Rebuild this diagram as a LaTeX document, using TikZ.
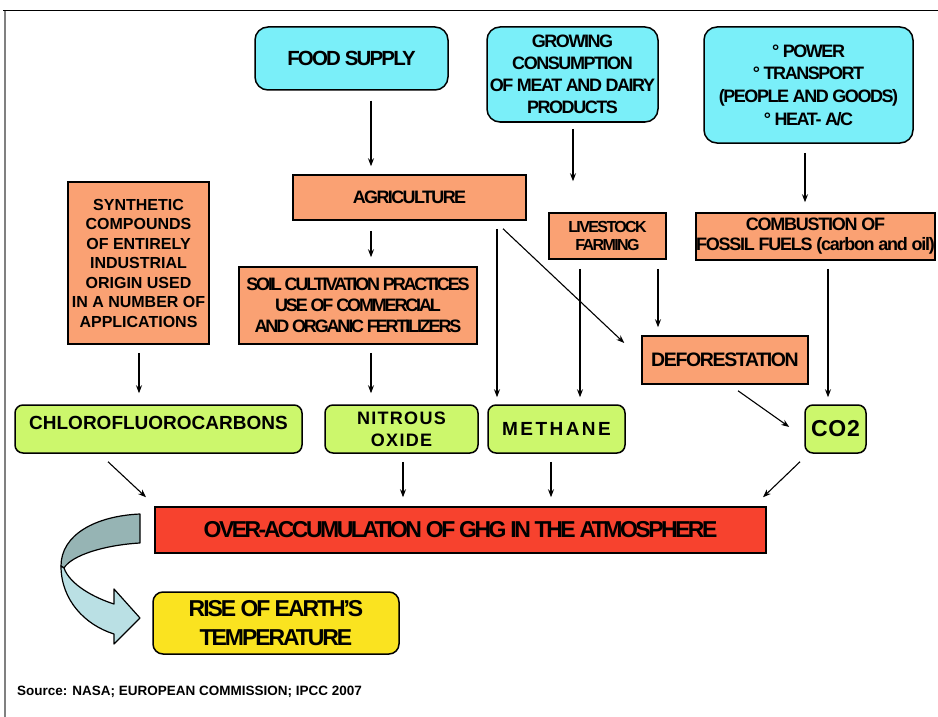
\documentclass[tikz,border=0pt]{standalone}
\usepackage{fontspec}
\setmainfont{Liberation Sans}
\usetikzlibrary{calc,arrows.meta}
\newcommand\myfont[3]{\fontsize{#1pt}{#2pt}\selectfont\bfseries\addfontfeature{LetterSpace=#3}}
\definecolor{cy}{RGB}{122,239,249}
\definecolor{org}{RGB}{250,161,115}
\definecolor{grn}{RGB}{204,247,108}
\definecolor{rd}{RGB}{247,66,46}
\definecolor{yl}{RGB}{250,227,32}
\definecolor{dk}{RGB}{150,180,180}
\definecolor{lt}{RGB}{186,224,228}
\begin{document}
\begin{tikzpicture}[x=1pt,y=-1pt,
  box/.style={draw=black, line width=1.5pt, inner sep=0pt, align=center, anchor=center},
  cbox/.style={box, fill=cy, rounded corners=13pt},
  obox/.style={box, fill=org},
  gbox/.style={box, fill=grn, rounded corners=8pt},
  arr/.style={-{Stealth[length=8pt,width=6pt]}, line width=1.1pt}]
\useasboundingbox (0,0) rectangle (938,717);
% frame
\draw[line width=1pt] (3,11) -- (938,11);
\draw[line width=2pt, gray] (5,11) -- (5,717);

% top row
\node[cbox, minimum width=193pt, minimum height=63pt, font=\myfont{20.5}{24}{-9}] (food) at (351.5,58.5) {FOOD SUPPLY};
\node[cbox, minimum width=171pt, minimum height=95pt, font=\myfont{18}{22.2}{-8}] (grow) at (572.5,74.5) {GROWING\\CONSUMPTION\\OF MEAT AND DAIRY\\PRODUCTS};
\node[cbox, minimum width=209pt, minimum height=116pt, font=\myfont{18}{22.7}{-8}] (power) at (808.5,85) {° POWER\\° TRANSPORT\\(PEOPLE AND GOODS)\\° HEAT- A/C};

% orange
\node[obox, minimum width=233pt, minimum height=45pt, font=\myfont{18}{20}{-9}] (agri) at (409.5,197.5) {AGRICULTURE};
\node[obox, minimum width=117pt, minimum height=46pt, font=\myfont{16}{18.7}{-10}] (live) at (607.5,236) {LIVESTOCK\\FARMING};
\node[obox, minimum width=239pt, minimum height=47pt, font=\myfont{18}{20}{-7}] (comb) at (815.5,236.5) {COMBUSTION OF\\FOSSIL FUELS (carbon and oil)};
\node[obox, minimum width=141pt, minimum height=162pt, font=\myfont{16}{19.5}{0}] (synth) at (138.5,263) {SYNTHETIC\\COMPOUNDS\\OF ENTIRELY\\INDUSTRIAL\\ORIGIN USED\\IN A NUMBER OF\\APPLICATIONS};
\node[obox, minimum width=238pt, minimum height=77pt, font=\myfont{18}{20.7}{-12}] (soil) at (358,305.5) {SOIL CULTIVATION PRACTICES\\USE OF COMMERCIAL\\AND ORGANIC FERTILIZERS};
\node[obox, minimum width=166pt, minimum height=48pt, font=\myfont{19.5}{22}{-7}] (defo) at (725,360) {DEFORESTATION};

% green
\node[gbox, minimum width=287pt, minimum height=48pt] (cfc) at (158.5,429) {};
\node[inner sep=0pt, font=\myfont{19}{22}{0}] (cfct) at ([yshift=6pt]cfc.center) {CHLOROFLUOROCARBONS};
\node[gbox, minimum width=153pt, minimum height=48pt, font=\myfont{18}{22}{7}] (nitro) at (401.5,429) {NITROUS\\OXIDE};
\node[gbox, minimum width=137pt, minimum height=48pt, font=\myfont{19}{22}{13}] (meth) at (556.5,429) {METHANE};
\node[gbox, minimum width=61pt, minimum height=48pt, font=\myfont{23}{26}{3}] (co2) at (835.5,429) {CO2};

% bottom
\node[box, fill=rd, minimum width=611pt, minimum height=46pt, font=\myfont{23}{26}{-11}] (over) at (460.5,530) {OVER-ACCUMULATION OF GHG IN THE ATMOSPHERE};
\node[box, fill=yl, rounded corners=10pt, minimum width=246pt, minimum height=62pt, font=\myfont{23}{28.7}{-9}] (rise) at (276,623) {RISE OF EARTH’S\\TEMPERATURE};
\node[anchor=west, inner sep=0pt, font=\myfont{13.5}{16}{0}] (src) at (17,692) {Source: NASA; EUROPEAN COMMISSION; IPCC 2007};

% connectors
\draw[arr] ($(food.south)+(19.5,10)$) -- ($(agri.north)+(-38.5,-8)$);
\draw[arr] ($(grow.south)+(0.5,6)$) -- ($(live.north)+(-34.5,-31)$);
\draw[arr] ($(power.south)+(-3.5,9)$) -- ($(comb.north)+(-10.5,-10)$);
\draw[arr] ($(agri.south)+(-38.5,10)$) -- ($(soil.north)+(13,-9)$);
\draw[arr] ($(synth.south)+(0.5,8)$) -- ($(cfc.north)+(-19.5,-11)$);
\draw[arr] ($(soil.south)+(13,8)$) -- ($(nitro.north)+(-30.5,-11)$);
\draw[arr] ($(agri.south)+(87.5,8)$) -- ($(meth.north)+(-59.5,-7)$);
\draw[arr] ($(agri.south)+(93.5,8)$) -- ($(defo.west)+(-17,-17)$);
\draw[arr] ($(live.south)+(-27.5,9)$) -- ($(meth.north)+(23.5,-7)$);
\draw[arr] ($(live.south)+(50.5,9)$) -- ($(defo.north)+(-67,-8)$);
\draw[arr] ($(comb.south)+(12.5,8)$) -- ($(co2.north)+(-7.5,-7)$);
\draw[arr] ($(defo.south)+(13,6)$) -- ($(co2.west)+(-15,-2)$);
\draw[arr] ($(cfc.south)+(-50.5,8)$) -- ($(over.north)+(-314.5,-9)$);
\draw[arr] ($(nitro.south)+(1.5,8)$) -- ($(over.north)+(-57.5,-9)$);
\draw[arr] ($(meth.south)+(-5.5,8)$) -- ($(over.north)+(90.5,-9)$);
\draw[arr] ($(co2.south)+(-35.5,8)$) -- ($(over.north)+(302.5,-9)$);

% curved arrow
\draw[fill=dk, line width=1.2pt, line join=round] (140,514) .. controls (95,516) and (61,535) .. (61,566) -- (64,568) .. controls (72,555) and (105,545) .. (140,543) -- cycle;
\draw[fill=lt, line width=1.2pt, line join=round] (61,566) .. controls (61,600) and (85,625) .. (114,634) -- (114,644) -- (140,618) -- (114,589) -- (114,604) .. controls (95,598) and (70,585) .. (64,568) -- cycle;
\end{tikzpicture}
\end{document}
